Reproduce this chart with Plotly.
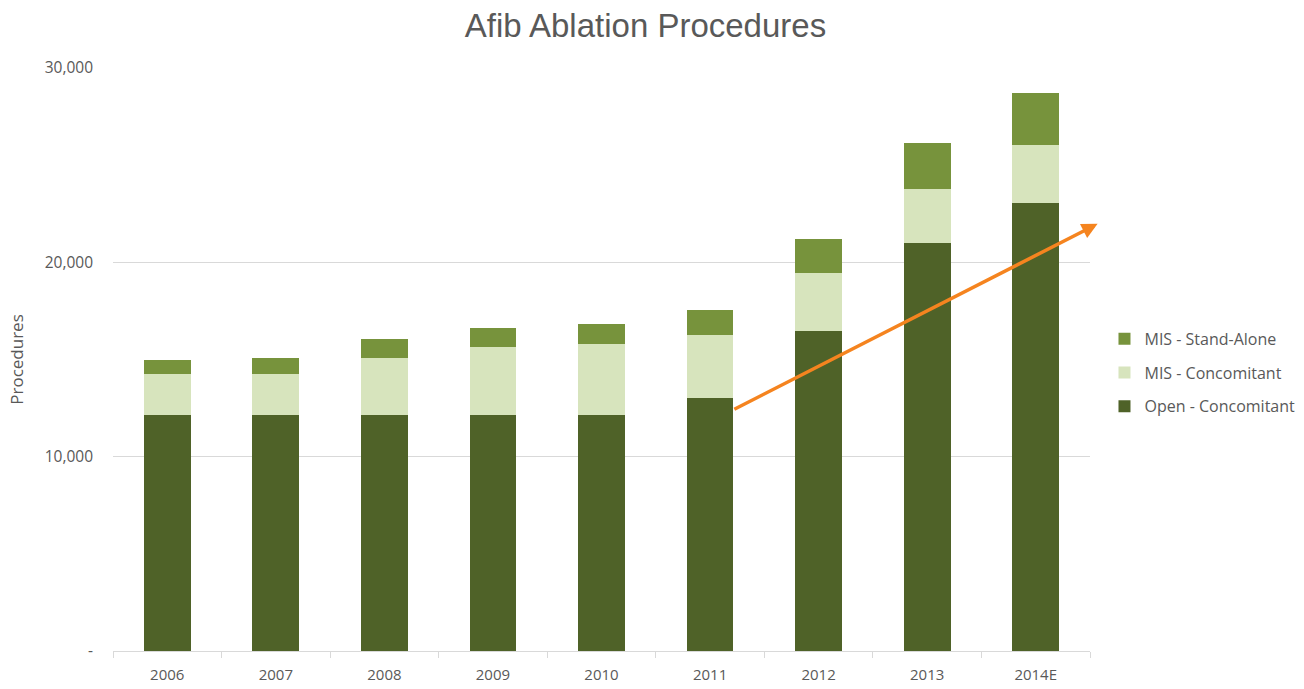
import plotly.graph_objects as go

years = ["2006", "2007", "2008", "2009", "2010", "2011", "2012", "2013", "2014E"]
open_concomitant = [12150, 12150, 12150, 12150, 12150, 13000, 16450, 21000, 23050]
mis_concomitant = [2100, 2100, 2950, 3500, 3650, 3250, 3000, 2750, 3000]
mis_standalone = [700, 850, 950, 950, 1050, 1300, 1750, 2400, 2650]
y_ticks = [0, 10000, 20000, 30000]
y_tick_labels = ["-", "10,000", "20,000", "30,000"]

font_fam = "Open Sans, Liberation Sans, Arial"
title_fam = "Liberation Sans, Arial"
txt = "#595959"

fig = go.Figure()
fig.add_bar(x=years, y=open_concomitant, name="Open - Concomitant", marker_color="#4F6228",
            marker_line_width=0, legendgroup="a", legendrank=3)
fig.add_bar(x=years, y=mis_concomitant, name="MIS - Concomitant", marker_color="#D7E4BD",
            marker_line_width=0, legendgroup="b", legendrank=2)
fig.add_bar(x=years, y=mis_standalone, name="MIS - Stand-Alone", marker_color="#77933C",
            marker_line_width=0, legendgroup="c", legendrank=1)

fig.add_annotation(x=8.57, y=21980, ax=5.21, ay=12400, xref="x", yref="y", axref="x", ayref="y",
                   showarrow=True, arrowhead=2, arrowsize=0.9, arrowwidth=3.5, arrowcolor="#F5841F", text="")

fig.update_layout(
    barmode="stack",
    bargap=0.57,
    width=1304, height=689,
    paper_bgcolor="white", plot_bgcolor="white",
    margin=dict(l=113, r=214, t=68, b=38, autoexpand=False),
    title=dict(text="Afib Ablation Procedures", x=0.495, xanchor="center", y=0.963, yanchor="middle",
               font=dict(family=title_fam, size=33, color=txt)),
    font=dict(family=font_fam, color=txt, size=15),
    legend=dict(xref="container", yref="container", x=0.847, y=0.459, xanchor="left", yanchor="middle",
                traceorder="grouped", font=dict(size=16, color=txt), itemwidth=30, tracegroupgap=10),
    showlegend=True,
)
fig.update_xaxes(range=[-0.5, 8.5], showline=True, linecolor="#D9D9D9", linewidth=1,
                 ticks="outside", tickson="boundaries", ticklen=6, tickcolor="#D9D9D9",
                 ticklabelstandoff=10, automargin=False,
                 tickfont=dict(size=15, color=txt), showgrid=False)
fig.update_yaxes(range=[0, 30000], tickvals=y_ticks, ticktext=y_tick_labels, showgrid=True,
                 gridcolor="#D9D9D9", zeroline=False, ticks="", ticklabelstandoff=19, automargin=False,
                 tickfont=dict(size=15.5, color=txt),
                 title=dict(text="Procedures", font=dict(size=17, color=txt), standoff=16))

fig.write_html("out.html", config={"displayModeBar": False},
               post_script="document.body.style.margin='0';")
